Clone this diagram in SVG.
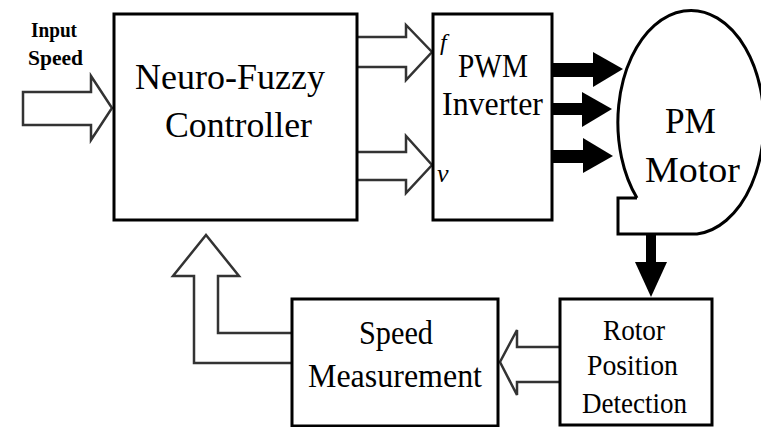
<svg xmlns="http://www.w3.org/2000/svg" width="761" height="427" viewBox="0 0 761 427">
<style>
.box{fill:#fff;stroke:#000;stroke-width:3}
.hollow{fill:#fff;stroke:#333;stroke-width:2.5;stroke-linejoin:miter}
.solid{fill:#000;stroke:none}
text{font-family:'Liberation Serif','Times New Roman',serif;fill:#000}
.lbl{font-size:36px}
.mid{font-size:34px}
.small{font-size:29px}
.tiny{font-size:22px;font-weight:bold}
.it{font-style:italic}
</style>
<rect width="761" height="427" fill="#fff"/>
<g id="connectors">
<path class="hollow" d="M23,92 L91,92 L91,76 L112,108 L91,140 L91,125 L23,125 Z"/>
<path class="hollow" d="M357,37 L406,37 L406,25 L432,52 L406,80 L406,67 L357,67"/>
<path class="hollow" d="M357,152 L406,152 L406,136 L432,165 L406,193 L406,180 L357,180"/>
<rect class="solid" x="552" y="63" width="42" height="14"/>
<polygon class="solid" points="593,52 623,69 593,87"/>
<rect class="solid" x="552" y="103" width="31" height="12"/>
<polygon class="solid" points="582,92 612,109 582,127"/>
<rect class="solid" x="552" y="150" width="32" height="13"/>
<polygon class="solid" points="583,138 613,156 583,173"/>
<rect class="solid" x="646" y="233" width="10" height="30"/>
<polygon class="solid" points="635,262 667,262 651,297"/>
<path class="hollow" d="M560,347 L517,347 L517,330 L500,362 L517,395 L517,382 L560,382"/>
<path class="hollow" d="M292,333 L218,333 L218,276 L239,276 L206,235 L173,276 L194,276 L194,363 L292,363"/>
</g>
<g id="input-label">
<text class="tiny" x="31" y="37" textLength="46" lengthAdjust="spacingAndGlyphs">Input</text>
<text class="tiny" x="28" y="65" textLength="55" lengthAdjust="spacingAndGlyphs">Speed</text>
</g>
<g id="controller">
<rect class="box" x="114" y="14" width="243" height="206"/>
<text class="lbl" x="135" y="89" textLength="190" lengthAdjust="spacingAndGlyphs">Neuro-Fuzzy</text>
<text class="lbl" x="165" y="137" textLength="147" lengthAdjust="spacingAndGlyphs">Controller</text>
</g>
<g id="inverter">
<rect class="box" x="433" y="14" width="119" height="206"/>
<text class="it" x="440" y="50" font-size="24">f</text>
<text class="it" x="437" y="182" font-size="26">v</text>
<text class="mid" x="458" y="77" textLength="70" lengthAdjust="spacingAndGlyphs">PWM</text>
<text class="mid" x="442" y="115" textLength="101" lengthAdjust="spacingAndGlyphs">Inverter</text>
</g>
<g id="motor">
<path fill="#fff" stroke="#000" stroke-width="3" d="M637,198 L618,198 L618,234 L697,234 A73,112 0 1 0 637,198"/>
<text class="lbl" x="665" y="133" textLength="51" lengthAdjust="spacingAndGlyphs">PM</text>
<text class="lbl" x="645" y="182" textLength="95" lengthAdjust="spacingAndGlyphs">Motor</text>
</g>
<g id="rotor-detection">
<rect class="box" x="560" y="299" width="152" height="126"/>
<text class="small" x="603" y="340" textLength="62" lengthAdjust="spacingAndGlyphs">Rotor</text>
<text class="small" x="587" y="375" textLength="91" lengthAdjust="spacingAndGlyphs">Position</text>
<text class="small" x="582" y="413" textLength="105" lengthAdjust="spacingAndGlyphs">Detection</text>
</g>
<g id="speed-measurement">
<rect class="box" x="292" y="299" width="206" height="127"/>
<text class="mid" x="359" y="344" textLength="74" lengthAdjust="spacingAndGlyphs">Speed</text>
<text class="mid" x="308" y="387" textLength="174" lengthAdjust="spacingAndGlyphs">Measurement</text>
</g>
</svg>
